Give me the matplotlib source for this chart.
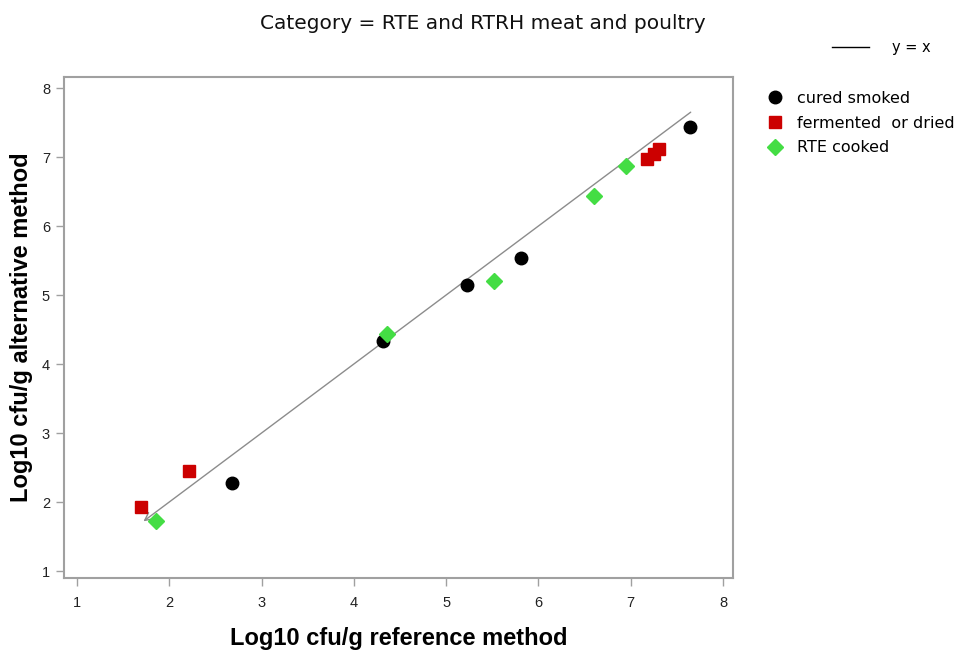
import matplotlib
matplotlib.use("Agg")
import matplotlib.pyplot as plt
from matplotlib.lines import Line2D

# Log10 cfu/g counts: reference method (x) vs alternative method (y)
cured_x = [2.68, 4.32, 5.23, 5.81, 7.64]
cured_y = [2.27, 4.33, 5.14, 5.53, 7.43]

fermented_x = [1.69, 2.21, 7.18, 7.25, 7.31]
fermented_y = [1.93, 2.45, 6.97, 7.04, 7.11]

cooked_x = [1.86, 4.36, 5.52, 6.60, 6.95]
cooked_y = [1.72, 4.44, 5.21, 6.43, 6.87]

identity_range = [1.72, 7.65]

x_ticks = [1, 2, 3, 4, 5, 6, 7, 8]
y_ticks = [1, 2, 3, 4, 5, 6, 7, 8]

plt.rcParams['font.family'] = ['Liberation Sans', 'DejaVu Sans']

fig = plt.figure(figsize=(9.59, 6.53), dpi=100)
ax = fig.add_axes([0.0667, 0.1149, 0.6976, 0.7672])

frame_col = '#a0a0a0'
line_col = '#8c8c8c'

# identity line y = x, with an arrowhead at its lower end
ax.annotate('', xy=(identity_range[0], identity_range[0]),
            xytext=(identity_range[1], identity_range[1]),
            arrowprops=dict(arrowstyle='->', color=line_col, lw=1.0,
                            shrinkA=0, shrinkB=0, mutation_scale=14))

ax.plot(cured_x, cured_y, 'o', color='black', markersize=9, zorder=3)
ax.plot(fermented_x, fermented_y, 's', color='#cc0000', markersize=9, zorder=3)
ax.plot(cooked_x, cooked_y, 'D', color='#44dd44', markersize=8, zorder=3)

ax.set_xlim(0.859, 8.108)
ax.set_ylim(0.899, 8.16)
ax.set_xticks(x_ticks)
ax.set_yticks(y_ticks)
ax.tick_params(direction='out', length=6, width=1, color=frame_col,
               labelsize=10.5, labelcolor='#222222')
ax.tick_params(axis='x', pad=7)
ax.tick_params(axis='y', pad=4)
for s in ax.spines.values():
    s.set_color(frame_col)
    s.set_linewidth(1.5)

ax.set_xlabel('Log10 cfu/g reference method', fontsize=17, fontweight='bold',
              labelpad=12)
ax.set_ylabel('Log10 cfu/g alternative method', fontsize=17, fontweight='bold')
ax.yaxis.set_label_coords(-0.047, 0.5)

fig.text(0.503, 0.964, 'Category = RTE and RTRH meat and poultry',
         ha='center', va='center', fontsize=14.5, color='#111111',
         family='DejaVu Sans')

# legend for the identity line
line_handle = Line2D([], [], color='black', lw=1.0)
fig.legend([line_handle], ['y = x'], loc='center left',
           bbox_to_anchor=(0.862, 0.927), frameon=False,
           prop={'family': 'DejaVu Sans', 'size': 10.5},
           handlelength=2.5, handletextpad=1.6, borderaxespad=0)

# legend for the product groups
marker_handles = [
    Line2D([], [], marker='o', color='black', ls='none', markersize=9),
    Line2D([], [], marker='s', color='#cc0000', ls='none', markersize=8),
    Line2D([], [], marker='D', color='#44dd44', ls='none', markersize=8),
]
fig.legend(marker_handles, ['cured smoked', 'fermented  or dried', 'RTE cooked'],
           loc='upper left', bbox_to_anchor=(0.793, 0.871), frameon=False,
           prop={'family': 'DejaVu Sans', 'size': 11.5},
           handlelength=1.0, handletextpad=0.9,
           labelspacing=0.62, borderaxespad=0)

fig.savefig('out.png', dpi=100)
